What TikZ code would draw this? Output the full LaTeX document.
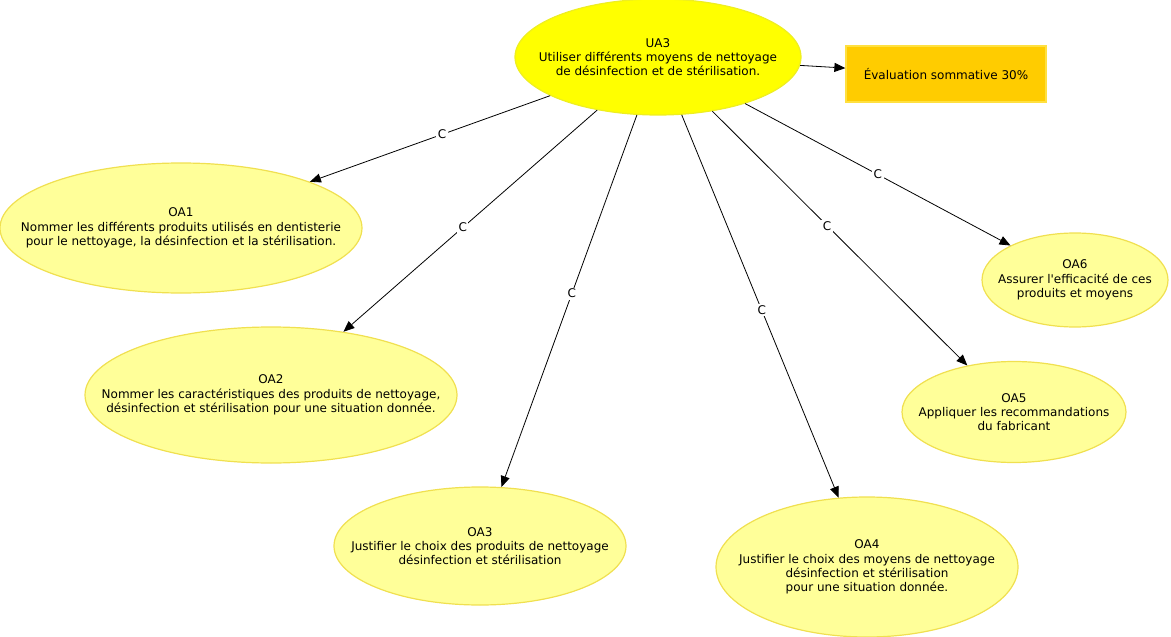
\documentclass[tikz,border=0pt]{standalone}
\usepackage{fontspec}
\setmainfont{DejaVu Sans}[Ligatures=TeXOff]
\usetikzlibrary{shapes.geometric, arrows.meta}

\definecolor{uafill}{HTML}{FFFF00}
\definecolor{uaborder}{HTML}{EEEE22}
\definecolor{oafill}{HTML}{FFFF99}
\definecolor{oaborder}{HTML}{F0E050}
\definecolor{evalfill}{HTML}{FFCC00}
\definecolor{evalborder}{HTML}{FFE040}

\begin{document}
\begin{tikzpicture}[x=1pt, y=-1pt,
    every node/.style={font=\fontsize{12}{14.3}\selectfont},
    ua/.style={ellipse, draw=uaborder, fill=uafill, line width=1.2pt, inner sep=0pt},
    oa/.style={ellipse, draw=oaborder, fill=oafill, line width=1.2pt, inner sep=0pt},
    txt/.style={align=center, inner sep=0pt},
    evalbox/.style={draw=evalborder, fill=evalfill, line width=1.2pt, minimum width=200pt, minimum height=56pt},
    conn/.style={draw=black, line width=0.8pt, -{Triangle[length=11pt, width=9pt]}},
    lbl/.style={fill=white, inner sep=1.5pt}]
    \useasboundingbox (0,0) rectangle (1171,637);

    % the unit and its objectives
        \node[ua, minimum width=286pt, minimum height=116pt] (ua3) at (658,57) {};
        \node[txt] (ua3t) at (ua3) {UA3\\Utiliser différents moyens de nettoyage\\de désinfection et de stérilisation.};
        \node[evalbox] (eval) at (946,74) {Évaluation sommative 30\%};

        \node[oa, minimum width=362pt, minimum height=130pt] (oa1) at (181,228) {};
        \node[txt] (oa1t) at (oa1) {OA1\\Nommer les différents produits utilisés en dentisterie\\pour le nettoyage, la désinfection et la stérilisation.};
        \node[oa, minimum width=372pt, minimum height=136pt] (oa2) at (271,395) {};
        \node[txt] (oa2t) at (oa2) {OA2\\Nommer les caractéristiques des produits de nettoyage,\\désinfection et stérilisation pour une situation donnée.};
        \node[oa, minimum width=292pt, minimum height=118pt] (oa3) at (480,546) {};
        \node[txt] (oa3t) at (oa3) {OA3\\Justifier le choix des produits de nettoyage\\désinfection et stérilisation};
        \node[oa, minimum width=302pt, minimum height=140pt] (oa4) at (867,567) {};
        \node[txt] (oa4t) at (oa4) {OA4\\Justifier le choix des moyens de nettoyage\\désinfection et stérilisation\\pour une situation donnée.};
        \node[oa, minimum width=224pt, minimum height=101pt] (oa5) at (1014,412) {};
        \node[txt] (oa5t) at (oa5) {OA5\\Appliquer les recommandations\\du fabricant};
        \node[oa, minimum width=186pt, minimum height=94pt] (oa6) at (1075,280) {};
        \node[txt] (oa6t) at (oa6) {OA6\\Assurer l'efficacité de ces\\produits et moyens};

    % connectors
        \draw[conn] (ua3) -- (eval);
        \draw[conn] (ua3) -- node[lbl, pos=0.45] {C} (oa1);
        \draw[conn] (ua3) -- node[lbl, pos=0.53] {C} (oa2);
        \draw[conn] (ua3) -- node[lbl, pos=0.48] {C} (oa3);
        \draw[conn] (ua3) -- node[lbl, pos=0.51] {C} (oa4);
        \draw[conn] (ua3) -- node[lbl, pos=0.45] {C} (oa5);
        \draw[conn] (ua3) -- node[lbl] {C} (oa6);
\end{tikzpicture}
\end{document}
